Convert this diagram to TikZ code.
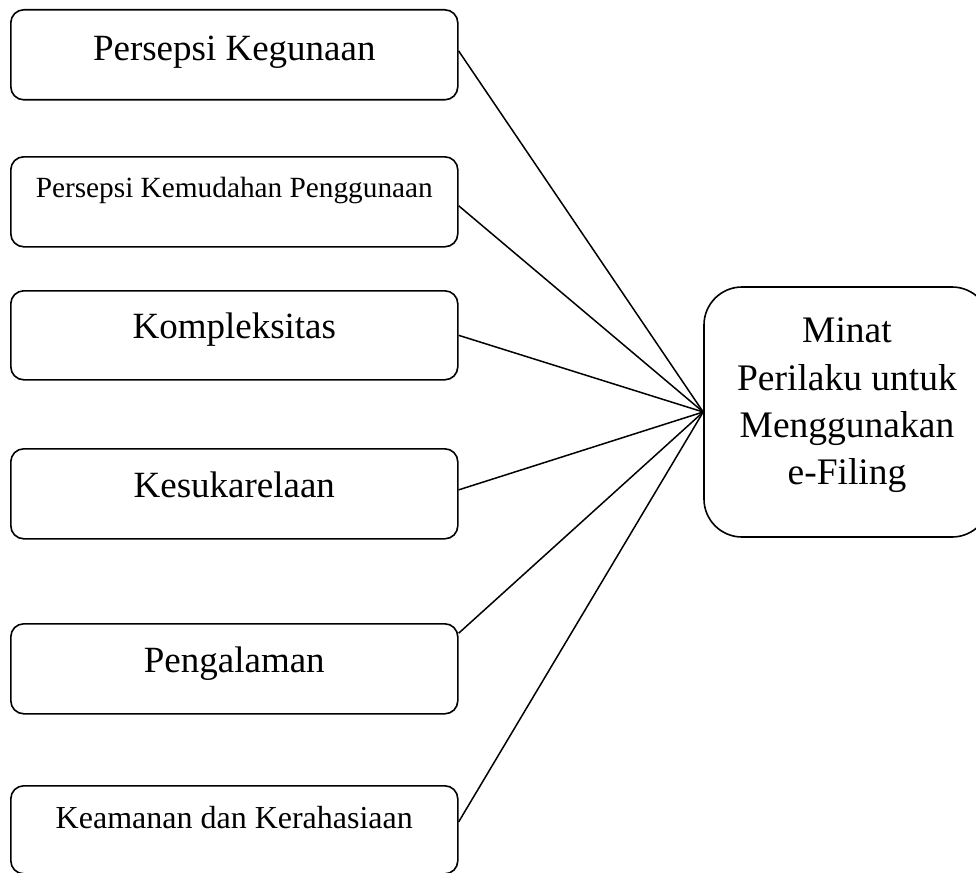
\documentclass[tikz,border=0pt]{standalone}
\usepackage{fontspec}
\setmainfont{Liberation Serif}
\begin{document}
\begin{tikzpicture}[x=1pt,y=-1pt,
  factor/.style={draw, line width=1.6pt, rounded corners=13pt, inner sep=0pt,
    minimum width=447pt, anchor=north west},
  bigtext/.style={font=\fontsize{37}{44}\selectfont},
  target/.style={draw, line width=1.6pt, rounded corners=38pt, inner sep=0pt,
    minimum width=286pt, minimum height=250pt},
  link/.style={line width=1.5pt}]
  \useasboundingbox (0,0) rectangle (976,872);

  % independent variables
  \node[factor, bigtext, text height=51pt, text depth=39pt] (b1) at (10,9) {Persepsi Kegunaan};
  \node[factor, font=\fontsize{29.3}{35}\selectfont, text height=41pt, text depth=49pt] (b2) at (10,156) {Persepsi Kemudahan Penggunaan};
  \node[factor, bigtext, text height=48pt, text depth=41pt] (b3) at (10,290) {Kompleksitas};
  \node[factor, bigtext, text height=49pt, text depth=41pt] (b4) at (10,448) {Kesukarelaan};
  \node[factor, bigtext, text height=49pt, text depth=41pt] (b5) at (10,623) {Pengalaman};
  \node[factor, font=\fontsize{32}{38}\selectfont, text height=43pt, text depth=45pt] (b6) at (10,785) {Keamanan dan Kerahasiaan};

  % dependent variable
  \node[target] (m) at (847,412) {};
  \node[inner sep=0pt, align=center, font=\fontsize{37.5}{47.3}\selectfont] (mt) at (847,405.5)
    {Minat\\Perilaku untuk\\Menggunakan\\e-Filing};

  % relations
  \draw[link] (b1.1.54) -- (m.west);
  \draw[link] (b2.-1.03) -- (m.west);
  \draw[link] (b3.0.38) -- (m.west);
  \draw[link] (b4.1.03) -- (m.west);
  \draw[link] (b5.9.65) -- (m.west);
  \draw[link] (b6.2.3) -- (m.west);
\end{tikzpicture}
\end{document}
